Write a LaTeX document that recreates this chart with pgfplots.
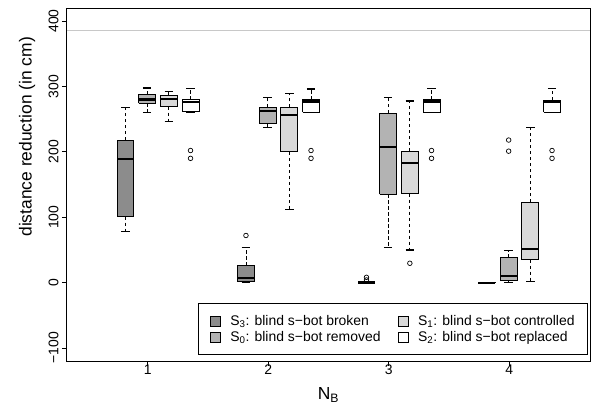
\documentclass[border=0pt]{standalone}
\usepackage{fontspec}
\setmainfont{Liberation Sans}
\usepackage{pgfplots}
\pgfplotsset{compat=1.18}

\definecolor{cS3}{HTML}{8C8C8C}
\definecolor{cS0}{HTML}{B3B3B3}
\definecolor{cS1}{HTML}{D9D9D9}
\definecolor{cS2}{HTML}{FFFFFF}
\definecolor{refline}{HTML}{C8C8C8}

\pgfplotsset{
  whisk/.style={forget plot, black, line width=0.75bp, dash pattern=on 3.5bp off 2.5bp},
  wcap/.style={forget plot, black, line width=1.5bp},
  boxs/.style={forget plot, draw=black, line width=0.9bp},
  meds/.style={forget plot, black, line width=2.4bp},
  outl/.style={forget plot, only marks, mark=o, mark size=2.3bp,
    mark options={black, line width=0.7bp}},
}

% one R-style box: position, fill, lower whisker, lower quartile, median, upper quartile, upper whisker
\newcommand{\rbox}[7]{%
  \pgfmathsetmacro\xa{#1-0.07}%
  \pgfmathsetmacro\xb{#1+0.07}%
  \pgfmathsetmacro\ca{#1-0.035}%
  \pgfmathsetmacro\cb{#1+0.035}%
  \edef\tmpbox{%
    \noexpand\addplot[whisk] coordinates {(#1,#4) (#1,#3)};
    \noexpand\addplot[whisk] coordinates {(#1,#6) (#1,#7)};
    \noexpand\addplot[wcap] coordinates {(\ca,#3) (\cb,#3)};
    \noexpand\addplot[wcap] coordinates {(\ca,#7) (\cb,#7)};
    \noexpand\addplot[boxs, fill=#2] coordinates {(\xa,#4) (\xb,#4) (\xb,#6) (\xa,#6) (\xa,#4)};
    \noexpand\addplot[meds] coordinates {(\xa,#5) (\xb,#5)};
  }\tmpbox}

\begin{document}
\begin{tikzpicture}
\begin{axis}[
  at={(0,0)}, anchor=south west,
  scale only axis, width=523bp, height=353bp,
  xmin=0.33, xmax=4.67, ymin=-120, ymax=420,
  axis line style={black, line width=1bp},
  xtick={1,2,3,4},
  ytick={-100,0,100,200,300,400},
  yticklabels={−100,0,100,200,300,400},
  tick align=outside, major tick length=5bp,
  tick style={black, line width=0.8bp},
  xtick pos=bottom, ytick pos=left,
  /pgf/number format/assume math mode=true,
  ticklabel style={font=\fontsize{14}{16}\selectfont},
  yticklabel style={rotate=90, anchor=south},
  yticklabel shift=0bp,
  xticklabel shift=-5bp,
  xlabel={N\textsubscript{B}},
  ylabel={distance reduction (in cm)},
  xlabel style={at={(axis description cs:0.5,0)}, anchor=center,
    yshift=-34bp, font=\fontsize{17.5}{20}\selectfont},
  ylabel style={at={(axis description cs:0,0.635)}, anchor=center,
    yshift=40bp, font=\fontsize{17.5}{20}\selectfont},
  legend columns=2,
  legend cell align=left,
  legend image code/.code={\draw[#1, draw=black, line width=0.6bp] (0bp,-5bp) rectangle (10bp,5bp);},
  legend style={at={(1,0)}, anchor=south east, xshift=-2bp, yshift=6bp,
    draw=black, line width=0.8bp,
    font=\fontsize{14}{16}\selectfont, inner xsep=11bp, inner ysep=10bp,
    /tikz/every odd column/.append style={column sep=8bp},
    /tikz/every even column/.append style={column sep=15bp},
    /tikz/column 1/.append style={column sep=12bp}},
]

% reference distance
\addplot[refline, line width=1bp, forget plot] coordinates {(0.33,386) (4.67,386)};

% N_B = 1
\rbox{0.815}{cS3}{78}{101}{189}{218}{268}
\rbox{0.995}{cS0}{260}{274}{280}{288}{298}
\rbox{1.175}{cS1}{246}{269}{281}{286}{292}
\rbox{1.355}{cS2}{261}{261}{276}{280}{297}
\addplot[outl] coordinates {(1.355,202) (1.355,190)};

% N_B = 2
\rbox{1.815}{cS3}{0}{1}{6.6}{26}{54}
\addplot[outl] coordinates {(1.815,72)};
\rbox{1.995}{cS0}{237}{243}{262}{268}{283}
\rbox{2.175}{cS1}{112}{200}{256}{268}{289}
\rbox{2.355}{cS2}{260}{260.5}{277}{280}{296}
\addplot[outl] coordinates {(2.355,202) (2.355,190)};

% N_B = 3
\rbox{2.815}{cS3}{0}{-0.3}{0}{0.3}{0}
\addplot[outl] coordinates {(2.815,8) (2.815,4)};
\rbox{2.995}{cS0}{54}{135}{207}{259}{283}
\rbox{3.175}{cS1}{50}{136}{183}{201}{278}
\addplot[outl] coordinates {(3.175,29.5)};
\rbox{3.355}{cS2}{260}{260.5}{277}{280}{297}
\addplot[outl] coordinates {(3.355,202) (3.355,190)};

% N_B = 4
\rbox{3.815}{cS3}{-0.5}{-0.6}{-0.3}{0}{0}
\rbox{3.995}{cS0}{0}{3.5}{10}{39}{49}
\addplot[outl] coordinates {(3.995,218) (3.995,201)};
\rbox{4.175}{cS1}{1.5}{35}{51}{123}{237}
\rbox{4.355}{cS2}{260.5}{260.5}{277}{279}{297}
\addplot[outl] coordinates {(4.355,202) (4.355,190)};

% legend (row-wise fill: S3, S1 / S0, S2)
\addlegendimage{fill=cS3}
\addlegendentry{S\textsubscript{3}: blind s−bot broken}
\addlegendimage{fill=cS1}
\addlegendentry{S\textsubscript{1}: blind s−bot controlled}
\addlegendimage{fill=cS0}
\addlegendentry{S\textsubscript{0}: blind s−bot removed}
\addlegendimage{fill=cS2}
\addlegendentry{S\textsubscript{2}: blind s−bot replaced}
\end{axis}
\pgfresetboundingbox
\path (-67bp,-49bp) rectangle (538bp,361bp);
\end{tikzpicture}
\end{document}
